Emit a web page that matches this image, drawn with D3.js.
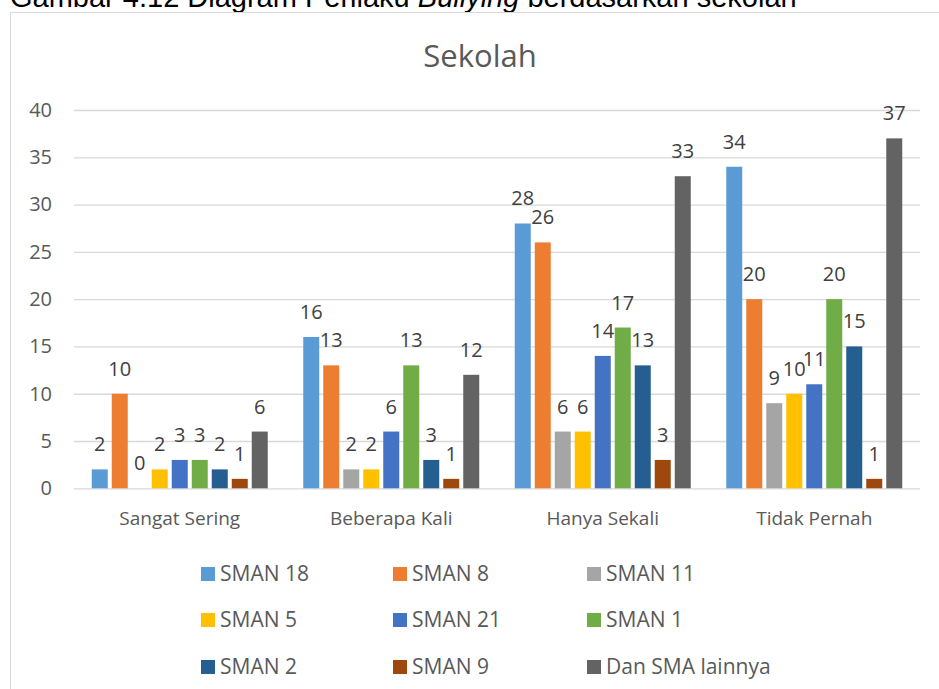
<!DOCTYPE html>
<html>
<head>
<meta charset="utf-8">
<script src="https://cdn.jsdelivr.net/npm/d3@7"></script>
<style>
  html, body { margin: 0; padding: 0; background: #fff; }
  svg { display: block; font-family: "Open Sans", sans-serif; }
</style>
</head>
<body>
<div id="container"></div>
<script>
// categories (x axis)
const categories = ["Sangat Sering", "Beberapa Kali", "Hanya Sekali", "Tidak Pernah"]

// one array of values per school, in category order
const sman18 = [2, 16, 28, 34]
const sman8 = [10, 13, 26, 20]
const sman11 = [0, 2, 6, 9]
const sman5 = [2, 2, 6, 10]
const sman21 = [3, 6, 14, 11]
const sman1 = [3, 13, 17, 20]
const sman2 = [2, 3, 13, 15]
const sman9 = [1, 1, 3, 1]
const lainnya = [6, 12, 33, 37]

const seriesNames = ["SMAN 18", "SMAN 8", "SMAN 11", "SMAN 5", "SMAN 21", "SMAN 1", "SMAN 2", "SMAN 9", "Dan SMA lainnya"]
const seriesValues = [sman18, sman8, sman11, sman5, sman21, sman1, sman2, sman9, lainnya]
const seriesColors = ["#5B9BD5", "#ED7D31", "#A5A5A5", "#FFC000", "#4472C4", "#70AD47", "#255E91", "#9E480E", "#636363"]

const yTicks = [0, 5, 10, 15, 20, 25, 30, 35, 40]

const width = 939
const height = 689

let svg = d3.select("#container")
    .append("svg")
    .attr("width", width)
    .attr("height", height)

//caption above the chart (cut off at the top, as on the page)
let caption = svg.append("text")
    .attr("x", 10)
    .attr("y", 7)
    .attr("fill", "#000")
    .style("font-family", "'Liberation Sans', Arial, sans-serif")
    .style("font-size", "29px")
caption.append("tspan").text("Gambar 4.12 Diagram Perilaku ")
caption.append("tspan").style("font-style", "italic").text("Bullying")
caption.append("tspan").text(" berdasarkan sekolah")

//chart frame
svg.append("rect")
    .attr("x", 10.5)
    .attr("y", 12.5)
    .attr("width", 1000)
    .attr("height", 1000)
    .attr("fill", "#fff")
    .attr("stroke", "#d9d9d9")

//title
svg.append("text")
    .attr("x", 480)
    .attr("y", 67)
    .attr("text-anchor", "middle")
    .attr("fill", "#595959")
    .style("font-size", "31px")
    .text("Sekolah")

//scales
const plotLeft = 74, plotRight = 920
let x0 = d3.scaleBand()
    .domain(categories)
    .range([plotLeft, plotRight])

const groupWidth = 176
let x1 = d3.scaleBand()
    .domain(seriesNames)
    .range([(x0.bandwidth() - groupWidth) / 2, (x0.bandwidth() + groupWidth) / 2])
    .paddingInner(0.2)

let y = d3.scaleLinear()
    .domain([0, 40])
    .range([488.3, 110])

//gridlines + y tick labels
let yAxis = svg.append("g")
    .attr("transform", `translate(${plotLeft},0)`)
    .call(d3.axisLeft(y).tickValues(yTicks).tickSize(-(plotRight - plotLeft)).tickPadding(22))
yAxis.select(".domain").remove()
yAxis.selectAll(".tick line").attr("stroke", "#d9d9d9").attr("stroke-width", 1.3)
yAxis.selectAll(".tick text")
    .attr("fill", "#595959")
    .style("font-size", "20px")
    .style("font-family", "'Open Sans', sans-serif")

//category labels
let xAxis = svg.append("g")
    .attr("transform", `translate(0,${y(0)})`)
    .call(d3.axisBottom(x0).tickSize(0).tickPadding(23))
xAxis.select(".domain").remove()
xAxis.selectAll(".tick text")
    .attr("fill", "#595959")
    .style("font-size", "19px")
    .style("font-family", "'Open Sans', sans-serif")

//bars
let groups = svg.append("g")
    .selectAll("g")
    .data(categories)
    .enter().append("g")
    .attr("transform", d => `translate(${x0(d)},0)`)

groups.selectAll("rect")
    .data((c, ci) => seriesNames.map((s, si) => ({ s: s, v: seriesValues[si][ci], color: seriesColors[si] })))
    .enter().append("rect")
    .attr("x", d => x1(d.s))
    .attr("width", x1.bandwidth())
    .attr("y", d => y(d.v))
    .attr("height", d => y(0) - y(d.v))
    .attr("fill", d => d.color)

//data labels
groups.selectAll("text")
    .data((c, ci) => seriesNames.map((s, si) => ({ s: s, v: seriesValues[si][ci] })))
    .enter().append("text")
    .attr("x", d => x1(d.s) + x1.bandwidth() / 2)
    .attr("y", d => y(d.v) - 18)
    .attr("text-anchor", "middle")
    .attr("fill", "#404040")
    .style("font-size", "20px")
    .text(d => d.v)

//legend
const legendX = [201, 393, 587]
const legendY = [567, 613, 660]
let legend = svg.append("g")
    .selectAll("g")
    .data(seriesNames)
    .enter().append("g")
    .attr("transform", (d, i) => `translate(${legendX[i % 3]},${legendY[Math.floor(i / 3)]})`)
legend.append("rect")
    .attr("width", 14)
    .attr("height", 14)
    .attr("fill", (d, i) => seriesColors[i])
legend.append("text")
    .attr("x", 19)
    .attr("y", 14)
    .attr("fill", "#595959")
    .style("font-size", "21px")
    .text(d => d)
</script>
</body>
</html>
